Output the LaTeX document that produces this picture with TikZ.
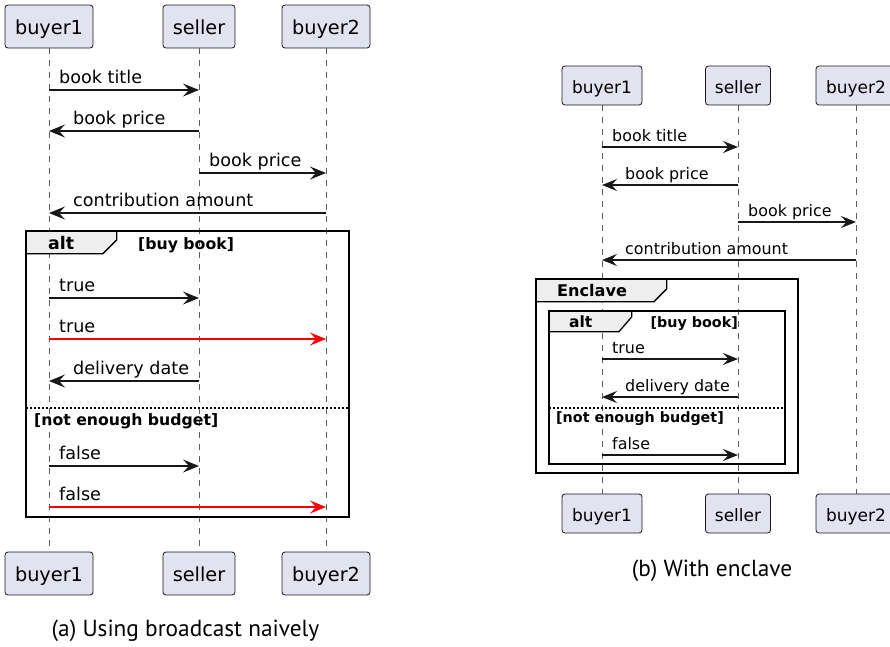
\documentclass[tikz,border=0pt]{standalone}
\usepackage{fontspec}
\newfontfamily\dv{DejaVu Sans}
\newfontfamily\capfont{PT Sans}
\usetikzlibrary{arrows.meta}
\definecolor{pfill}{HTML}{E2E2F0}
\definecolor{pline}{HTML}{181818}
\definecolor{tabfill}{HTML}{EEEEEE}
\definecolor{msgred}{HTML}{FF0000}
\begin{document}
\begin{tikzpicture}[x=1pt,y=-1pt,
 partL/.style={draw=pline, fill=pfill, rounded corners=3pt, line width=0.8pt, minimum height=43pt, inner sep=0pt, text height=15.6pt, text depth=0pt, font={\dv\fontsize{19.3pt}{20pt}\selectfont}},
 partR/.style={draw=pline, fill=pfill, rounded corners=3pt, line width=0.8pt, minimum height=39pt, inner sep=0pt, text height=15pt, text depth=0pt, font={\dv\fontsize{17pt}{18pt}\selectfont}},
 life/.style={draw=pline!70, line width=0.7pt, dash pattern=on 6pt off 6pt},
 msgL/.style={draw=pline, line width=1.3pt, -{Stealth[length=16pt,width=13pt,inset=6pt]}},
 msgR/.style={draw=pline, line width=1.2pt, -{Stealth[length=15pt,width=12pt,inset=5.5pt]}},
 lblL/.style={anchor=base west, inner sep=0pt, font={\dv\fontsize{17.6pt}{19pt}\selectfont}},
 lblR/.style={anchor=base west, inner sep=0pt, font={\dv\fontsize{15.9pt}{17pt}\selectfont}},
 frameline/.style={draw=black, line width=2pt},
 tabline/.style={draw=black, line width=1.3pt, fill=tabfill},
 guardL/.style={anchor=base west, inner sep=0pt, font={\dv\bfseries\fontsize{15.7pt}{17pt}\selectfont}},
 guardR/.style={anchor=base west, inner sep=0pt, font={\dv\bfseries\fontsize{14.3pt}{16pt}\selectfont}},
 sep/.style={draw=black, line width=1.3pt, dash pattern=on 2pt off 2pt},
 capt/.style={anchor=base, inner sep=0pt, font={\capfont\fontsize{23.3pt}{26pt}\selectfont}}
]
\useasboundingbox (0,0) rectangle (890,646);
\clip (0,0) rectangle (890,646);

% ---------------- Left diagram ----------------
\node[partL, minimum width=88pt] (a1) at (49,26.5) {buyer1};
\node[partL, minimum width=72pt] (a2) at (199,26.5) {seller};
\node[partL, minimum width=88pt] (a3) at (326,26.5) {buyer2};
\node[partL, minimum width=88pt] (b1) at (49,573.5) {buyer1};
\node[partL, minimum width=72pt] (b2) at (199,573.5) {seller};
\node[partL, minimum width=88pt] (b3) at (326,573.5) {buyer2};
\draw[life] (a1) -- (b1);
\draw[life] (a2) -- (b2);
\draw[life] (a3) -- (b3);

\draw[msgL] (a1 |- 0,90) -- (a2 |- 0,90);
\node[lblL] (l1) at (59,83) {book title};
\draw[msgL] (a2 |- 0,131) -- (a1 |- 0,131);
\node[lblL] (l2) at (73,124) {book price};
\draw[msgL] (a2 |- 0,173) -- (a3 |- 0,173);
\node[lblL] (l3) at (209,166) {book price};
\draw[msgL] (a3 |- 0,213) -- (a1 |- 0,213);
\node[lblL] (l4) at (73,206) {contribution amount};

% alt frame
\node[minimum width=323pt, minimum height=286pt, inner sep=0pt] (f1) at (187.5,374) {};
\draw[tabline] (f1.north west) -- ++(91,0) -- ++(0,9) -- ++(-14,14) -- ++(-77,0) -- cycle;
\draw[frameline] (f1.north west) rectangle (f1.south east);
\node[anchor=base west, inner sep=0pt, font={\dv\bfseries\fontsize{17.4pt}{19pt}\selectfont}] (t1) at (48,249) {alt};
\node[guardL] (g1) at (138,249) {[buy book]};

\draw[msgL] (a1 |- 0,298) -- (a2 |- 0,298);
\node[lblL] (l5) at (59,291) {true};
\draw[msgL, draw=msgred, color=msgred] (a1 |- 0,339) -- (a3 |- 0,339);
\node[lblL] (l6) at (59,332) {true};
\draw[msgL] (a2 |- 0,381) -- (a1 |- 0,381);
\node[lblL] (l7) at (73,374) {delivery date};
\draw[sep] (f1.west |- 0,408) -- (f1.east |- 0,408);
\node[guardL] (g2) at (34,425) {[not enough budget]};
\draw[msgL] (a1 |- 0,466) -- (a2 |- 0,466);
\node[lblL] (l8) at (59,459) {false};
\draw[msgL, draw=msgred, color=msgred] (a1 |- 0,507) -- (a3 |- 0,507);
\node[lblL] (l9) at (59,500) {false};

\node[capt] (capa) at (185.5,636) {(a) Using broadcast naively};

% ---------------- Right diagram ----------------
\node[partR, minimum width=80pt] (c1) at (602,85.5) {buyer1};
\node[partR, minimum width=65pt] (c2) at (738,85.5) {seller};
\node[partR, minimum width=80pt] (c3) at (856,85.5) {buyer2};
\node[partR, minimum width=80pt] (d1) at (602,513.5) {buyer1};
\node[partR, minimum width=65pt] (d2) at (738,513.5) {seller};
\node[partR, minimum width=80pt] (d3) at (856,513.5) {buyer2};
\draw[life] (c1) -- (d1);
\draw[life] (c2) -- (d2);
\draw[life] (c3) -- (d3);

\draw[msgR] (c1 |- 0,147) -- (c2 |- 0,147);
\node[lblR] (r1) at (612,141) {book title};
\draw[msgR] (c2 |- 0,185) -- (c1 |- 0,185);
\node[lblR] (r2) at (625,179) {book price};
\draw[msgR] (c2 |- 0,222) -- (c3 |- 0,222);
\node[lblR] (r3) at (748,216) {book price};
\draw[msgR] (c3 |- 0,260) -- (c1 |- 0,260);
\node[lblR] (r4) at (625,254) {contribution amount};

% Enclave frame
\node[minimum width=262pt, minimum height=194pt, inner sep=0pt] (f2) at (667,376) {};
\draw[tabline] (f2.north west) -- ++(131,0) -- ++(0,10) -- ++(-13,13) -- ++(-118,0) -- cycle;
\draw[frameline] (f2.north west) rectangle (f2.south east);
\node[anchor=base west, inner sep=0pt, font={\dv\bfseries\fontsize{16.1pt}{18pt}\selectfont}] (t2) at (557,296) {Enclave};

% alt frame (inner)
\node[minimum width=236pt, minimum height=153pt, inner sep=0pt] (f3) at (667,387.5) {};
\draw[tabline] (f3.north west) -- ++(83,0) -- ++(0,6) -- ++(-13,15) -- ++(-70,0) -- cycle;
\draw[frameline] (f3.north west) rectangle (f3.south east);
\node[anchor=base west, inner sep=0pt, font={\dv\bfseries\fontsize{15.5pt}{17pt}\selectfont}] (t3) at (569,327) {alt};
\node[guardR, anchor=base east] (g3) at (738,327) {[buy book]};

\draw[msgR] (c1 |- 0,359) -- (c2 |- 0,359);
\node[lblR] (r5) at (612,353) {true};
\draw[msgR] (c2 |- 0,397) -- (c1 |- 0,397);
\node[lblR] (r6) at (625,391) {delivery date};
\draw[sep] (f3.west |- 0,408) -- (f3.east |- 0,408);
\node[guardR] (g4) at (556,422) {[not enough budget]};
\draw[msgR] (c1 |- 0,455) -- (c2 |- 0,455);
\node[lblR] (r7) at (612,449) {false};

\node[capt] (capb) at (712,576) {(b) With enclave};
\end{tikzpicture}
\end{document}
